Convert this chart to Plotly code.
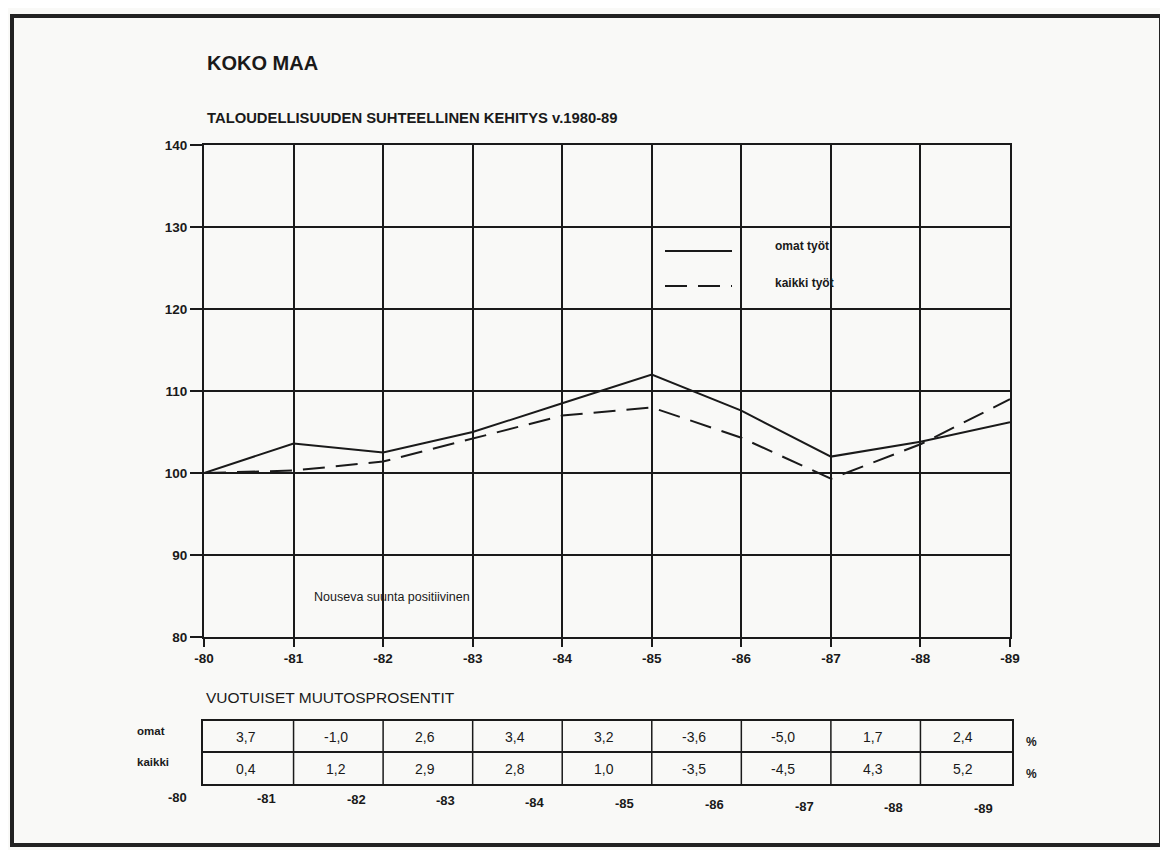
import plotly.graph_objects as go

years = ["-80", "-81", "-82", "-83", "-84", "-85", "-86", "-87", "-88", "-89"]
omat_index = [100, 103.6, 102.5, 105.0, 108.5, 112.0, 107.6, 102.0, 103.8, 106.2]
kaikki_index = [100, 100.3, 101.4, 104.2, 107.0, 108.0, 104.3, 99.3, 103.5, 109.0]
omat_pct = ["3,7", "-1,0", "2,6", "3,4", "3,2", "-3,6", "-5,0", "1,7", "2,4"]
kaikki_pct = ["0,4", "1,2", "2,9", "2,8", "1,0", "-3,5", "-4,5", "4,3", "5,2"]
y_ticks = [80, 90, 100, 110, 120, 130, 140]

OFF = 8  # page body margin
W, H = 1168 - OFF, 850 - OFF
L, R, T, B = 204, 1010, 145, 637  # screen pixels of plot area
INK = "#1a1a1a"
FONT = "Liberation Sans, Arial, sans-serif"


def px(xp):
    return (xp - L) / (R - L)


def py(yp):
    return (B - yp) / (B - T)


def colx(i):
    # screen x of data position i
    return L + i * (R - L) / 9


x = list(range(len(years)))

fig = go.Figure()
fig.add_trace(go.Scatter(x=x, y=omat_index, mode="lines", name="omat työt",
                         line=dict(color=INK, width=2), showlegend=False))
fig.add_trace(go.Scatter(x=x, y=kaikki_index, mode="lines", name="kaikki työt",
                         line=dict(color=INK, width=2, dash="22px,11px"), showlegend=False))

shapes = []
ann = []


def text(t, xs, ys, size, anchor="left", bold=False):
    ann.append(dict(text=("<b>%s</b>" % t) if bold else t, x=px(xs), y=py(ys),
                    xref="paper", yref="paper", xanchor=anchor, yanchor="middle",
                    showarrow=False, font=dict(size=size, color=INK, family=FONT)))


# outer border
shapes.append(dict(type="rect", xref="paper", yref="paper",
                   x0=px(12), x1=px(1161), y0=py(16), y1=py(845),
                   line=dict(color="#222", width=4), layer="below"))

# titles
text("KOKO MAA", 205, 63, 20, bold=True)
text("TALOUDELLISUUDEN SUHTEELLINEN KEHITYS v.1980-89", 205, 118, 14.8, bold=True)

# legend (custom)
shapes.append(dict(type="line", xref="paper", yref="paper", x0=px(665), x1=px(732),
                   y0=py(251), y1=py(251), line=dict(color=INK, width=2)))
shapes.append(dict(type="line", xref="paper", yref="paper", x0=px(665), x1=px(732),
                   y0=py(286), y1=py(286), line=dict(color=INK, width=2, dash="22px,11px")))
text("omat työt", 831, 246, 12, anchor="right", bold=True)
text("kaikki työt", 836, 283, 12, anchor="right", bold=True)

# note
text("Nouseva suunta positiivinen", 312, 597, 12.5)

# table
text("VUOTUISET MUUTOSPROSENTIT", 204, 697, 15.5)
t_top, t_mid, t_bot = 720, 752, 785
t_left, t_right = 202, 1013
shapes.append(dict(type="rect", xref="paper", yref="paper", x0=px(t_left), x1=px(t_right),
                   y0=py(t_top), y1=py(t_bot), line=dict(color=INK, width=2)))
shapes.append(dict(type="line", xref="paper", yref="paper", x0=px(t_left), x1=px(t_right),
                   y0=py(t_mid), y1=py(t_mid), line=dict(color=INK, width=2)))
for i in range(1, 9):
    xs = colx(i)
    shapes.append(dict(type="line", xref="paper", yref="paper", x0=px(xs), x1=px(xs),
                       y0=py(t_top), y1=py(t_bot), line=dict(color=INK, width=1.5)))
for i, (a, b) in enumerate(zip(omat_pct, kaikki_pct)):
    xc = colx(i + 0.47)
    text(a, xc, 737, 14, anchor="center")
    text(b, xc, 769, 14, anchor="center")
text("omat", 135, 731, 11.5, bold=True)
text("kaikki", 135, 762, 11.5, bold=True)
text("%", 1031, 742, 12, anchor="center", bold=True)
text("%", 1031, 774, 12, anchor="center", bold=True)
for i, lab in enumerate(years):
    text(lab, colx(i - 0.3), 797 + 1.3 * i, 13, anchor="center", bold=True)

fig.update_layout(
    width=W, height=H,
    margin=dict(l=L - OFF, r=W - (R - OFF), t=T - OFF, b=H - (B - OFF), autoexpand=False),
    paper_bgcolor="#f9f9f7", plot_bgcolor="#f9f9f7",
    shapes=shapes, annotations=ann,
    font=dict(family=FONT, color=INK),
)
fig.update_xaxes(range=[0, 9], tickvals=x, ticktext=["<b>" + y + "</b>" for y in years],
                 showgrid=True, gridcolor=INK, gridwidth=1.8,
                 showline=True, linecolor=INK, linewidth=2, mirror=True,
                 ticks="outside", ticklen=8, tickcolor=INK, tickwidth=2,
                 tickfont=dict(size=13.5, color=INK, family=FONT), zeroline=False)
fig.update_yaxes(range=[80, 140], tickvals=y_ticks, ticktext=["<b>%d</b>" % v for v in y_ticks],
                 showgrid=True, gridcolor=INK, gridwidth=1.8,
                 showline=True, linecolor=INK, linewidth=2, mirror=True,
                 ticks="outside", ticklen=12, tickcolor=INK, tickwidth=2,
                 tickfont=dict(size=13.5, color=INK, family=FONT), zeroline=False)

fig.write_html("out.html")
